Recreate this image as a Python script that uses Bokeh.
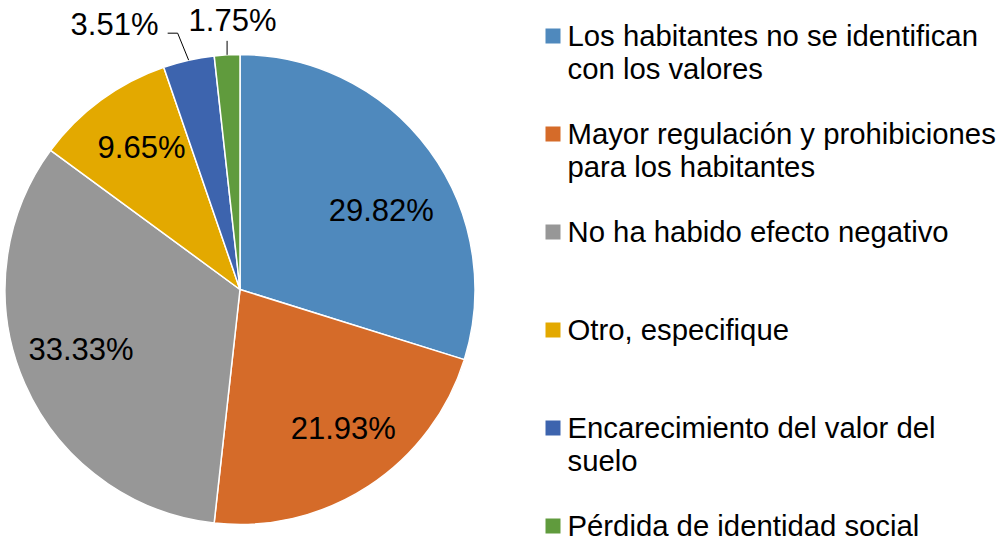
import math

from bokeh.core.properties import value
from bokeh.embed import file_html
from bokeh.models import Range1d
from bokeh.plotting import figure
from bokeh.resources import INLINE

# ---- data -------------------------------------------------------------
categories = [
    "Los habitantes no se identifican\ncon los valores",
    "Mayor regulación y prohibiciones\npara los habitantes",
    "No ha habido efecto negativo",
    "Otro, especifique",
    "Encarecimiento del valor del\nsuelo",
    "Pérdida de identidad social",
]
shares = [29.82, 21.93, 33.33, 9.65, 3.51, 1.75]
colors = ["#4F89BD", "#D56B29", "#979797", "#E3A900", "#3D64AE", "#609B3D"]

# ---- layout (pixel space, y measured from the top) --------------------
W, H = 996, 540
CX, CY, R = 239.5, 289.0, 235.0
FONT = value("Liberation Sans")
FS_LEGEND = "29.3px"
FS_LABEL = "31px"


def sy(y):
    """Convert a top-based pixel row to the plot's bottom-based y."""
    return H - y


p = figure(width=W, height=H, output_backend="svg", toolbar_location=None,
           x_range=Range1d(0, W), y_range=Range1d(0, H),
           min_border=0, outline_line_color=None, background_fill_color="white")
p.axis.visible = False
p.grid.visible = False

# ---- pie slices, clockwise from 12 o'clock ----------------------------
total = sum(shares)
cum = 0.0
starts, ends, mids = [], [], []
for s in shares:
    a0 = math.pi / 2 - 2 * math.pi * cum / total
    cum += s
    a1 = math.pi / 2 - 2 * math.pi * cum / total
    starts.append(a0)
    ends.append(a1)
    mids.append((a0 + a1) / 2)

p.wedge(x=[CX] * len(shares), y=[sy(CY)] * len(shares), radius=R,
        start_angle=starts, end_angle=ends, direction="clock",
        fill_color=colors, line_color="white", line_width=1.5)

# ---- value labels inside the larger slices ---------------------------
# (angle nudge in degrees, distance from centre in px) per inside label
inside_place = [(-7.0, 162.0), (3.5, 173.0), (-2.9, 170.0), (-1.6, 173.0)]
for i, (nudge, dist) in enumerate(inside_place):
    a = mids[i] + math.radians(nudge)
    p.text(x=[CX + dist * math.cos(a)], y=[sy(CY) + dist * math.sin(a)],
           text=[f"{shares[i]:.2f}%"], text_font=FONT, text_font_size=FS_LABEL,
           text_align="center", text_baseline="middle", text_color="#000000")

# ---- value labels with leader lines for the two smallest slices -------
# elbow offsets from the rim point, then the label anchor
outside_place = [
    {"elbow": [(-11, -27), (-21, -27)], "text": (158, 24), "align": "right"},
    {"elbow": [(0, -14)], "text": (232, 20), "align": "center"},
]
for k, spec in enumerate(outside_place):
    i = 4 + k
    rx = CX + R * math.cos(mids[i])
    ry = sy(CY) + R * math.sin(mids[i])
    xs = [rx] + [rx + dx for dx, _ in spec["elbow"]]
    ys = [ry] + [ry - dy for _, dy in spec["elbow"]]
    p.line(xs, ys, line_color="#000000", line_width=1)
    tx, ty = spec["text"]
    p.text(x=[tx], y=[sy(ty)], text=[f"{shares[i]:.2f}%"], text_font=FONT,
           text_font_size=FS_LABEL, text_align=spec["align"],
           text_baseline="middle", text_color="#000000")

# ---- legend ----------------------------------------------------------
LEG_TOP, LEG_STEP, LINE_H = 34.5, 98.0, 33.5
SW_X, SW = 552.5, 15
TXT_X = 567
for i, (cat, col) in enumerate(zip(categories, colors)):
    y0 = LEG_TOP + i * LEG_STEP
    p.rect(x=[SW_X], y=[sy(y0 + 1)], width=SW, height=SW,
           fill_color=col, line_color=None)
    for j, line in enumerate(cat.split("\n")):
        p.text(x=[TXT_X], y=[sy(y0 + j * LINE_H)], text=[line], text_font=FONT,
               text_font_size=FS_LEGEND, text_align="left",
               text_baseline="middle", text_color="#000000")

open("out.html", "w").write(file_html(p, INLINE))
